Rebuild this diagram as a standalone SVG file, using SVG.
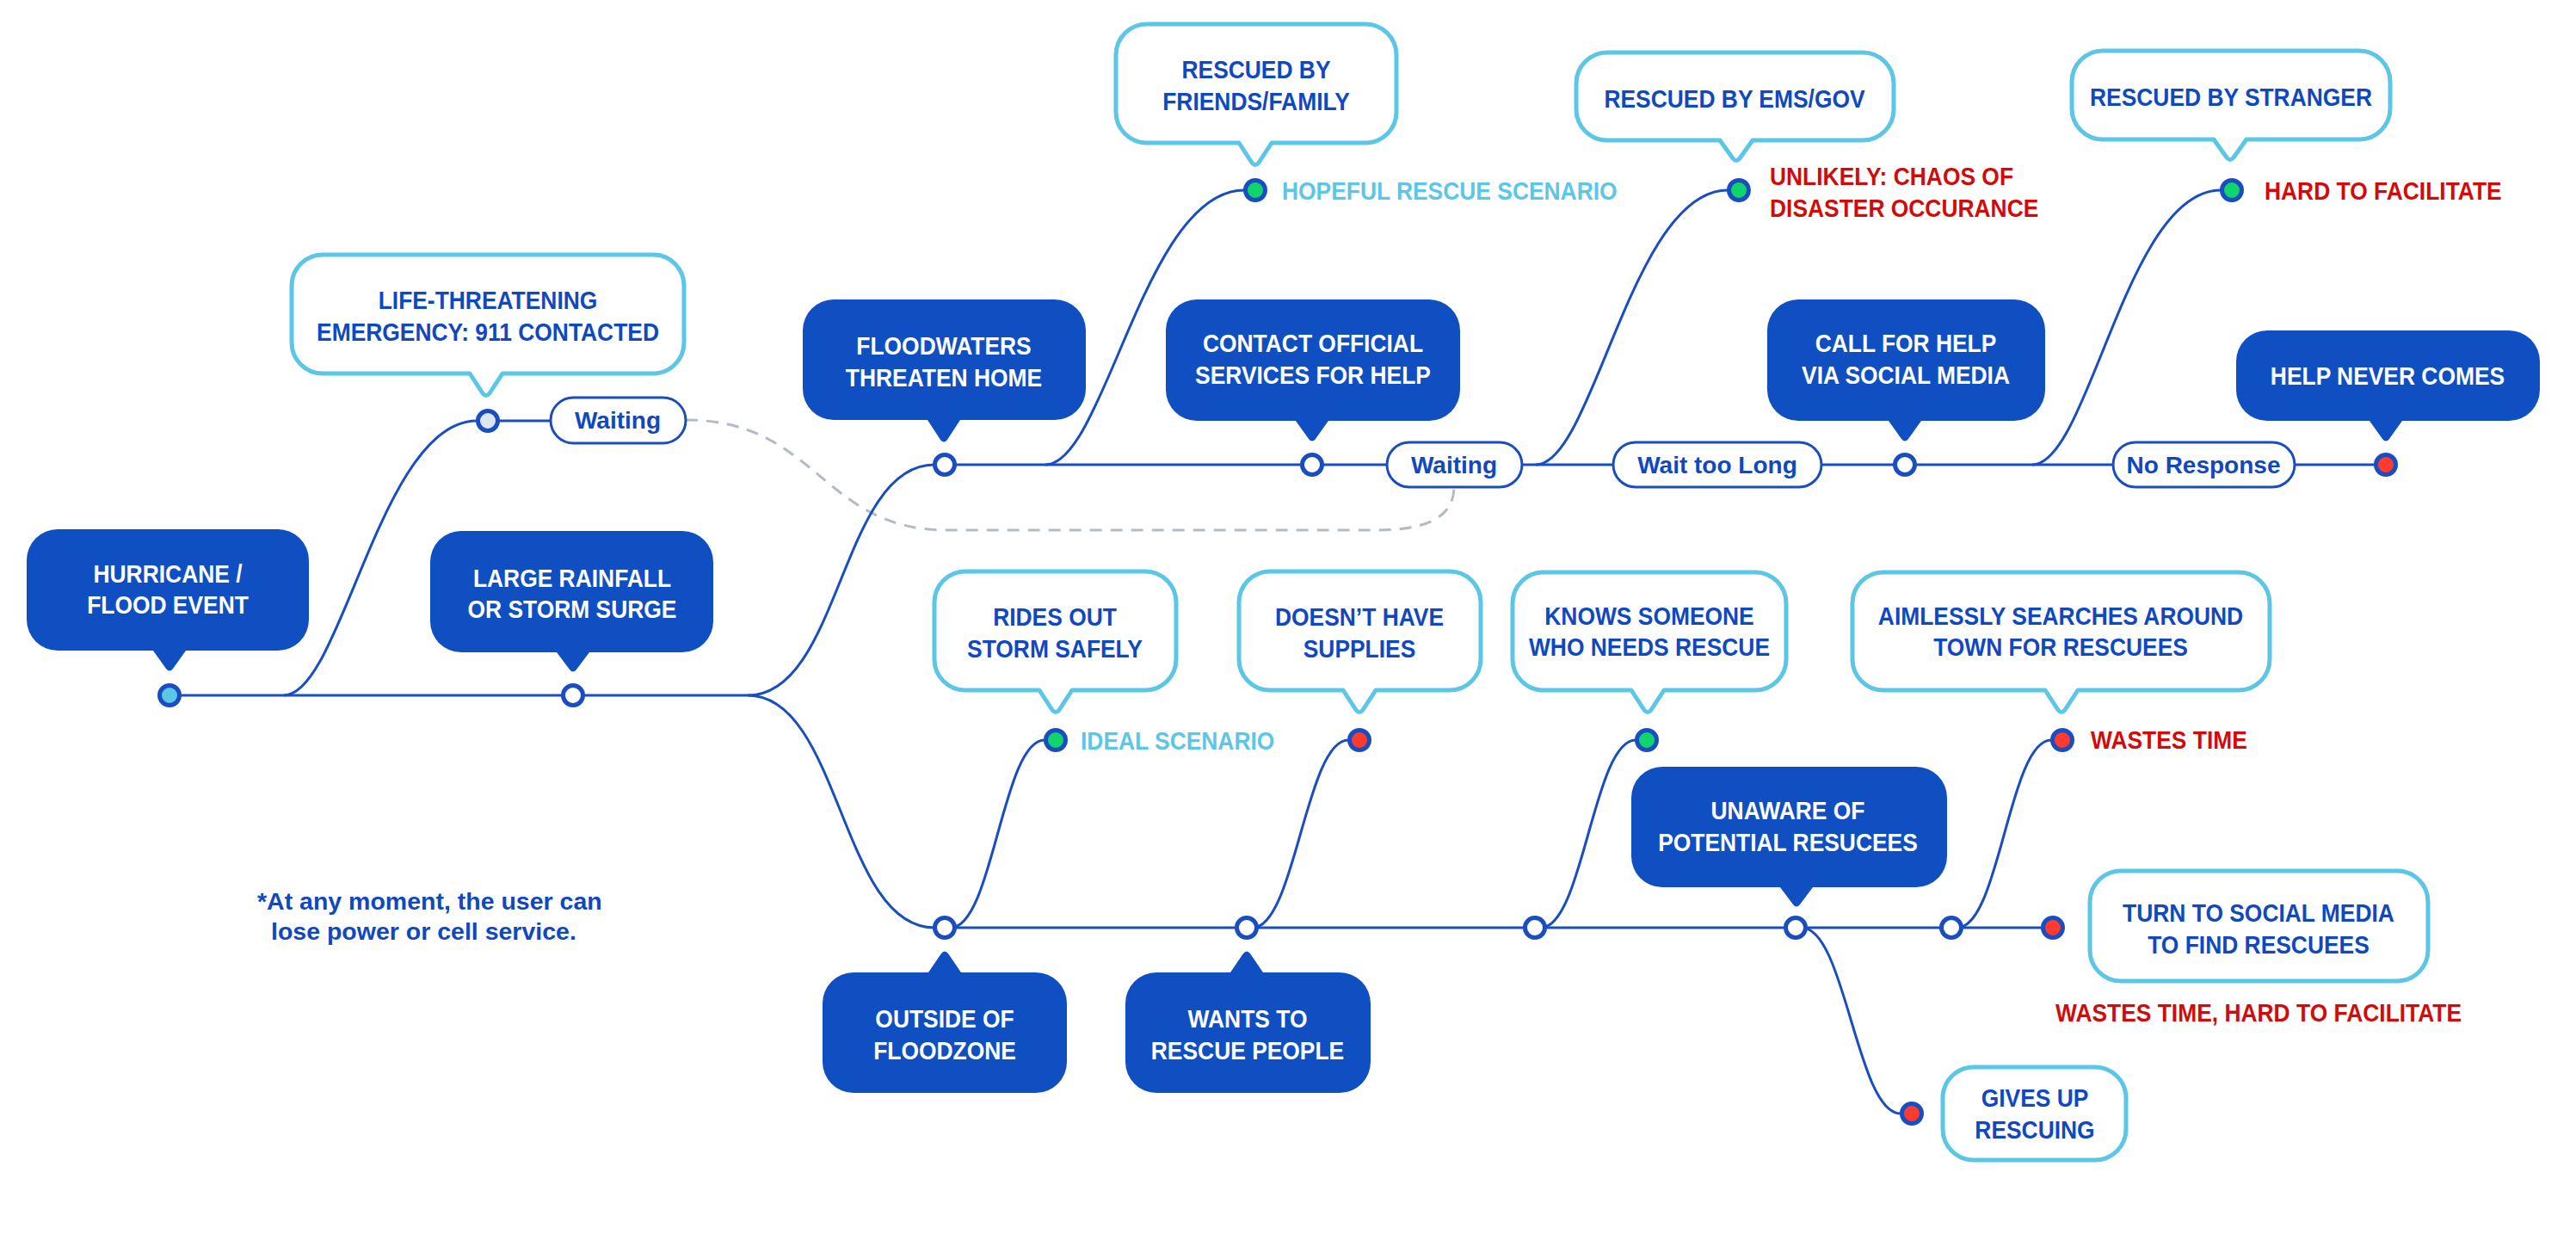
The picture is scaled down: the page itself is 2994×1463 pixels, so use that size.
<svg xmlns="http://www.w3.org/2000/svg" width="2994" height="1463" viewBox="0 0 2994 1463">
<style>
.dk{fill:#0F4FC2}
.lt{fill:#fff;stroke:#5BC6E6;stroke-width:5;stroke-linejoin:round}
.t{font-family:"Liberation Sans",Arial,sans-serif;font-weight:bold;font-size:30px;text-anchor:middle}
.pt{font-family:"Liberation Sans",Arial,sans-serif;font-weight:bold;font-size:28px;text-anchor:middle}
.lb{font-family:"Liberation Sans",Arial,sans-serif;font-weight:bold;font-size:30px}
.nt{font-family:"Liberation Sans",Arial,sans-serif;font-weight:bold;font-size:28.5px}
.w{fill:#fff}
.b{fill:#0F48BF}
.r{fill:#D20A0A}
.c{fill:#5BC6E6}
.ln{fill:none;stroke:#1A4EC0;stroke-width:3}
.dash{fill:none;stroke:#B2BBC6;stroke-width:3;stroke-dasharray:14 10}
.pill{fill:#fff;stroke:#1A4EC0;stroke-width:3}
.dot{stroke:#1A4EC0;stroke-width:5}
.dw{fill:#fff}
.dg{fill:#10D46C}
.dr{fill:#FF3B30}
</style>
<rect width="2994" height="1463" fill="#fff"/>
<g id="connectors">
<path class="dash" d="M797 488 C950 488 955 616 1100 616 H1600 C1650 616 1690 605 1690 566"/>
<path class="ln" d="M197 808 H869"/>
<path class="ln" d="M567 489 H640"/>
<path class="ln" d="M1098 540 H1612"/>
<path class="ln" d="M1769 540 H1875"/>
<path class="ln" d="M2117 540 H2456"/>
<path class="ln" d="M2667 540 H2773"/>
<path class="ln" d="M1098 1078 H2386"/>
<path class="ln" d="M330 808 C397 808 442 489 554 489"/>
<path class="ln" d="M869 808 C977 808 977 540 1086 540"/>
<path class="ln" d="M869 808 C977 808 977 1078 1086 1078"/>
<path class="ln" d="M1215 540 C1284 540 1330 221 1446 221"/>
<path class="ln" d="M1785 540 C1852 540 1896 221 2008 221"/>
<path class="ln" d="M2362 540 C2428 540 2471 221 2581 221"/>
<path class="ln" d="M1105 1078 C1154 1078 1165 860 1214 860"/>
<path class="ln" d="M1456 1078 C1505 1078 1518 860 1567 860"/>
<path class="ln" d="M1791 1078 C1840 1078 1852 860 1901 860"/>
<path class="ln" d="M2275 1078 C2324 1078 2335 860 2384 860"/>
<path class="ln" d="M2094 1078 C2145 1078 2158 1294 2209 1294"/>
</g>

<g id="n-hurricane">
<path class="dk" d="M67 615 H323 A36 36 0 0 1 359 651 V720 A36 36 0 0 1 323 756 H216 L201 777 Q197 782 193 777 L178 756 H67 A36 36 0 0 1 31 720 V651 A36 36 0 0 1 67 615 Z"/>
<text class="t w" transform="translate(195 677) scale(.88 1)">HURRICANE /</text>
<text class="t w" transform="translate(195 713) scale(.88 1)">FLOOD EVENT</text>
<circle class="dot" cx="197" cy="808" r="11.5" fill="#5BC6E6"/>
</g>

<g id="n-rainfall">
<path class="dk" d="M536 617 H793 A36 36 0 0 1 829 653 V722 A36 36 0 0 1 793 758 H685 L670 778 Q666 783 662 778 L647 758 H536 A36 36 0 0 1 500 722 V653 A36 36 0 0 1 536 617 Z"/>
<text class="t w" transform="translate(665 682) scale(.88 1)">LARGE RAINFALL</text>
<text class="t w" transform="translate(665 718) scale(.88 1)">OR STORM SURGE</text>
<circle class="dot dw" cx="666" cy="808" r="11.5"/>
</g>

<g id="n-life">
<path class="lt" d="M375 296 H759 A36 36 0 0 1 795 332 V398 A36 36 0 0 1 759 434 H584 L569 457 Q565 462 561 457 L546 434 H375 A36 36 0 0 1 339 398 V332 A36 36 0 0 1 375 296 Z"/>
<text class="t b" transform="translate(567 359) scale(.88 1)">LIFE-THREATENING</text>
<text class="t b" transform="translate(567 396) scale(.88 1)">EMERGENCY: 911 CONTACTED</text>
<circle class="dot" cx="567" cy="489" r="11.5" fill="#DCE6F3"/>
</g>

<g id="p-waiting1">
<rect class="pill" x="640" y="462" width="157" height="53" rx="26.5"/>
<text class="pt b" x="718" y="498">Waiting</text>
</g>

<g id="n-floodwaters">
<path class="dk" d="M969 348 H1226 A36 36 0 0 1 1262 384 V452 A36 36 0 0 1 1226 488 H1116 L1101 511 Q1097 516 1093 511 L1078 488 H969 A36 36 0 0 1 933 452 V384 A36 36 0 0 1 969 348 Z"/>
<text class="t w" transform="translate(1097 412) scale(.88 1)">FLOODWATERS</text>
<text class="t w" transform="translate(1097 449) scale(.88 1)">THREATEN HOME</text>
<circle class="dot dw" cx="1098" cy="540" r="11.5"/>
</g>

<g id="n-friends">
<path class="lt" d="M1333 28 H1587 A36 36 0 0 1 1623 64 V130 A36 36 0 0 1 1587 166 H1478 L1463 189 Q1459 194 1455 189 L1440 166 H1333 A36 36 0 0 1 1297 130 V64 A36 36 0 0 1 1333 28 Z"/>
<text class="t b" transform="translate(1460 91) scale(.88 1)">RESCUED BY</text>
<text class="t b" transform="translate(1460 128) scale(.88 1)">FRIENDS/FAMILY</text>
<circle class="dot dg" cx="1459" cy="221" r="11.5"/>
<text class="lb c" transform="translate(1490 232) scale(.88 1)">HOPEFUL RESCUE SCENARIO</text>
</g>

<g id="n-contact">
<path class="dk" d="M1391 348 H1661 A36 36 0 0 1 1697 384 V453 A36 36 0 0 1 1661 489 H1544 L1529 510 Q1525 515 1521 510 L1506 489 H1391 A36 36 0 0 1 1355 453 V384 A36 36 0 0 1 1391 348 Z"/>
<text class="t w" transform="translate(1526 409) scale(.88 1)">CONTACT OFFICIAL</text>
<text class="t w" transform="translate(1526 446) scale(.88 1)">SERVICES FOR HELP</text>
<circle class="dot dw" cx="1525" cy="540" r="11.5"/>
</g>

<g id="p-waiting2">
<rect class="pill" x="1612" y="514" width="157" height="52" rx="26"/>
<text class="pt b" x="1690" y="550">Waiting</text>
</g>

<g id="n-ems">
<path class="lt" d="M1868 61 H2165 A36 36 0 0 1 2201 97 V127 A36 36 0 0 1 2165 163 H2037 L2022 184 Q2018 189 2014 184 L1999 163 H1868 A36 36 0 0 1 1832 127 V97 A36 36 0 0 1 1868 61 Z"/>
<text class="t b" transform="translate(2016 125) scale(.88 1)">RESCUED BY EMS/GOV</text>
<circle class="dot dg" cx="2021" cy="221" r="11.5"/>
<text class="lb r" transform="translate(2057 215) scale(.88 1)">UNLIKELY: CHAOS OF</text>
<text class="lb r" transform="translate(2057 252) scale(.88 1)">DISASTER OCCURANCE</text>
</g>

<g id="p-waittoolong">
<rect class="pill" x="1875" y="514" width="242" height="52" rx="26"/>
<text class="pt b" x="1996" y="550">Wait too Long</text>
</g>

<g id="n-callhelp">
<path class="dk" d="M2090 348 H2341 A36 36 0 0 1 2377 384 V453 A36 36 0 0 1 2341 489 H2233 L2218 510 Q2214 515 2210 510 L2195 489 H2090 A36 36 0 0 1 2054 453 V384 A36 36 0 0 1 2090 348 Z"/>
<text class="t w" transform="translate(2215 409) scale(.88 1)">CALL FOR HELP</text>
<text class="t w" transform="translate(2215 446) scale(.88 1)">VIA SOCIAL MEDIA</text>
<circle class="dot dw" cx="2214" cy="540" r="11.5"/>
</g>

<g id="n-stranger">
<path class="lt" d="M2444 59 H2742 A36 36 0 0 1 2778 95 V126 A36 36 0 0 1 2742 162 H2611 L2596 183 Q2592 188 2588 183 L2573 162 H2444 A36 36 0 0 1 2408 126 V95 A36 36 0 0 1 2444 59 Z"/>
<text class="t b" transform="translate(2593 123) scale(.88 1)">RESCUED BY STRANGER</text>
<circle class="dot dg" cx="2594" cy="221" r="11.5"/>
<text class="lb r" transform="translate(2632 232) scale(.88 1)">HARD TO FACILITATE</text>
</g>

<g id="p-noresponse">
<rect class="pill" x="2456" y="514" width="211" height="52" rx="26"/>
<text class="pt b" x="2561" y="550">No Response</text>
</g>

<g id="n-helpnever">
<path class="dk" d="M2635 384 H2916 A36 36 0 0 1 2952 420 V453 A36 36 0 0 1 2916 489 H2792 L2777 510 Q2773 515 2769 510 L2754 489 H2635 A36 36 0 0 1 2599 453 V420 A36 36 0 0 1 2635 384 Z"/>
<text class="t w" transform="translate(2775 447) scale(.88 1)">HELP NEVER COMES</text>
<circle class="dot dr" cx="2773" cy="540" r="11.5"/>
</g>

<g id="n-outside">
<path class="dk" d="M992 1130 H1079 L1094 1108 Q1098 1103 1102 1108 L1117 1130 H1204 A36 36 0 0 1 1240 1166 V1234 A36 36 0 0 1 1204 1270 H992 A36 36 0 0 1 956 1234 V1166 A36 36 0 0 1 992 1130 Z"/>
<text class="t w" transform="translate(1098 1194) scale(.88 1)">OUTSIDE OF</text>
<text class="t w" transform="translate(1098 1231) scale(.88 1)">FLOODZONE</text>
<circle class="dot dw" cx="1098" cy="1078" r="11.5"/>
</g>

<g id="n-rides">
<path class="lt" d="M1122 664 H1331 A36 36 0 0 1 1367 700 V766 A36 36 0 0 1 1331 802 H1246 L1231 825 Q1227 830 1223 825 L1208 802 H1122 A36 36 0 0 1 1086 766 V700 A36 36 0 0 1 1122 664 Z"/>
<text class="t b" transform="translate(1226 727) scale(.88 1)">RIDES OUT</text>
<text class="t b" transform="translate(1226 764) scale(.88 1)">STORM SAFELY</text>
<circle class="dot dg" cx="1227" cy="860" r="11.5"/>
<text class="lb c" transform="translate(1256 871) scale(.88 1)">IDEAL SCENARIO</text>
</g>

<g id="n-wants">
<path class="dk" d="M1344 1130 H1430 L1445 1108 Q1449 1103 1453 1108 L1468 1130 H1557 A36 36 0 0 1 1593 1166 V1234 A36 36 0 0 1 1557 1270 H1344 A36 36 0 0 1 1308 1234 V1166 A36 36 0 0 1 1344 1130 Z"/>
<text class="t w" transform="translate(1450 1194) scale(.88 1)">WANTS TO</text>
<text class="t w" transform="translate(1450 1231) scale(.88 1)">RESCUE PEOPLE</text>
<circle class="dot dw" cx="1449" cy="1078" r="11.5"/>
</g>

<g id="n-supplies">
<path class="lt" d="M1476 664 H1685 A36 36 0 0 1 1721 700 V766 A36 36 0 0 1 1685 802 H1599 L1584 825 Q1580 830 1576 825 L1561 802 H1476 A36 36 0 0 1 1440 766 V700 A36 36 0 0 1 1476 664 Z"/>
<text class="t b" transform="translate(1580 727) scale(.88 1)">DOESN’T HAVE</text>
<text class="t b" transform="translate(1580 764) scale(.88 1)">SUPPLIES</text>
<circle class="dot dr" cx="1580" cy="860" r="11.5"/>
</g>

<g id="n-branch3">
<circle class="dot dw" cx="1784" cy="1078" r="11.5"/>
</g>

<g id="n-knows">
<path class="lt" d="M1794 665 H2040 A36 36 0 0 1 2076 701 V766 A36 36 0 0 1 2040 802 H1934 L1919 825 Q1915 830 1911 825 L1896 802 H1794 A36 36 0 0 1 1758 766 V701 A36 36 0 0 1 1794 665 Z"/>
<text class="t b" transform="translate(1917 726) scale(.88 1)">KNOWS SOMEONE</text>
<text class="t b" transform="translate(1917 762) scale(.88 1)">WHO NEEDS RESCUE</text>
<circle class="dot dg" cx="1914" cy="860" r="11.5"/>
</g>

<g id="n-unaware">
<path class="dk" d="M1932 891 H2227 A36 36 0 0 1 2263 927 V995 A36 36 0 0 1 2227 1031 H2107 L2092 1051 Q2088 1056 2084 1051 L2069 1031 H1932 A36 36 0 0 1 1896 995 V927 A36 36 0 0 1 1932 891 Z"/>
<text class="t w" transform="translate(2078 952) scale(.88 1)">UNAWARE OF</text>
<text class="t w" transform="translate(2078 989) scale(.88 1)">POTENTIAL RESUCEES</text>
<circle class="dot dw" cx="2087" cy="1078" r="11.5"/>
</g>

<g id="n-aimless">
<path class="lt" d="M2189 665 H2602 A36 36 0 0 1 2638 701 V766 A36 36 0 0 1 2602 802 H2415 L2400 825 Q2396 830 2392 825 L2377 802 H2189 A36 36 0 0 1 2153 766 V701 A36 36 0 0 1 2189 665 Z"/>
<text class="t b" transform="translate(2395 726) scale(.88 1)">AIMLESSLY SEARCHES AROUND</text>
<text class="t b" transform="translate(2395 762) scale(.88 1)">TOWN FOR RESCUEES</text>
<circle class="dot dw" cx="2268" cy="1078" r="11.5"/>
<circle class="dot dr" cx="2397" cy="860" r="11.5"/>
<text class="lb r" transform="translate(2430 870) scale(.88 1)">WASTES TIME</text>
</g>

<g id="n-social">
<circle class="dot dr" cx="2386" cy="1078" r="11.5"/>
<rect class="lt" x="2429" y="1012" width="393" height="128" rx="36"/>
<text class="t b" transform="translate(2625 1071) scale(.88 1)">TURN TO SOCIAL MEDIA</text>
<text class="t b" transform="translate(2625 1108) scale(.88 1)">TO FIND RESCUEES</text>
<text class="lb r" text-anchor="middle" transform="translate(2625 1187) scale(.88 1)">WASTES TIME, HARD TO FACILITATE</text>
</g>

<g id="n-givesup">
<circle class="dot dr" cx="2222" cy="1294" r="11.5"/>
<rect class="lt" x="2258" y="1240" width="213" height="108" rx="36"/>
<text class="t b" transform="translate(2365 1286) scale(.88 1)">GIVES UP</text>
<text class="t b" transform="translate(2365 1323) scale(.88 1)">RESCUING</text>
</g>

<g id="note">
<text class="nt b" x="299" y="1057">*At any moment, the user can</text>
<text class="nt b" x="315" y="1092">lose power or cell service.</text>
</g>
</svg>
